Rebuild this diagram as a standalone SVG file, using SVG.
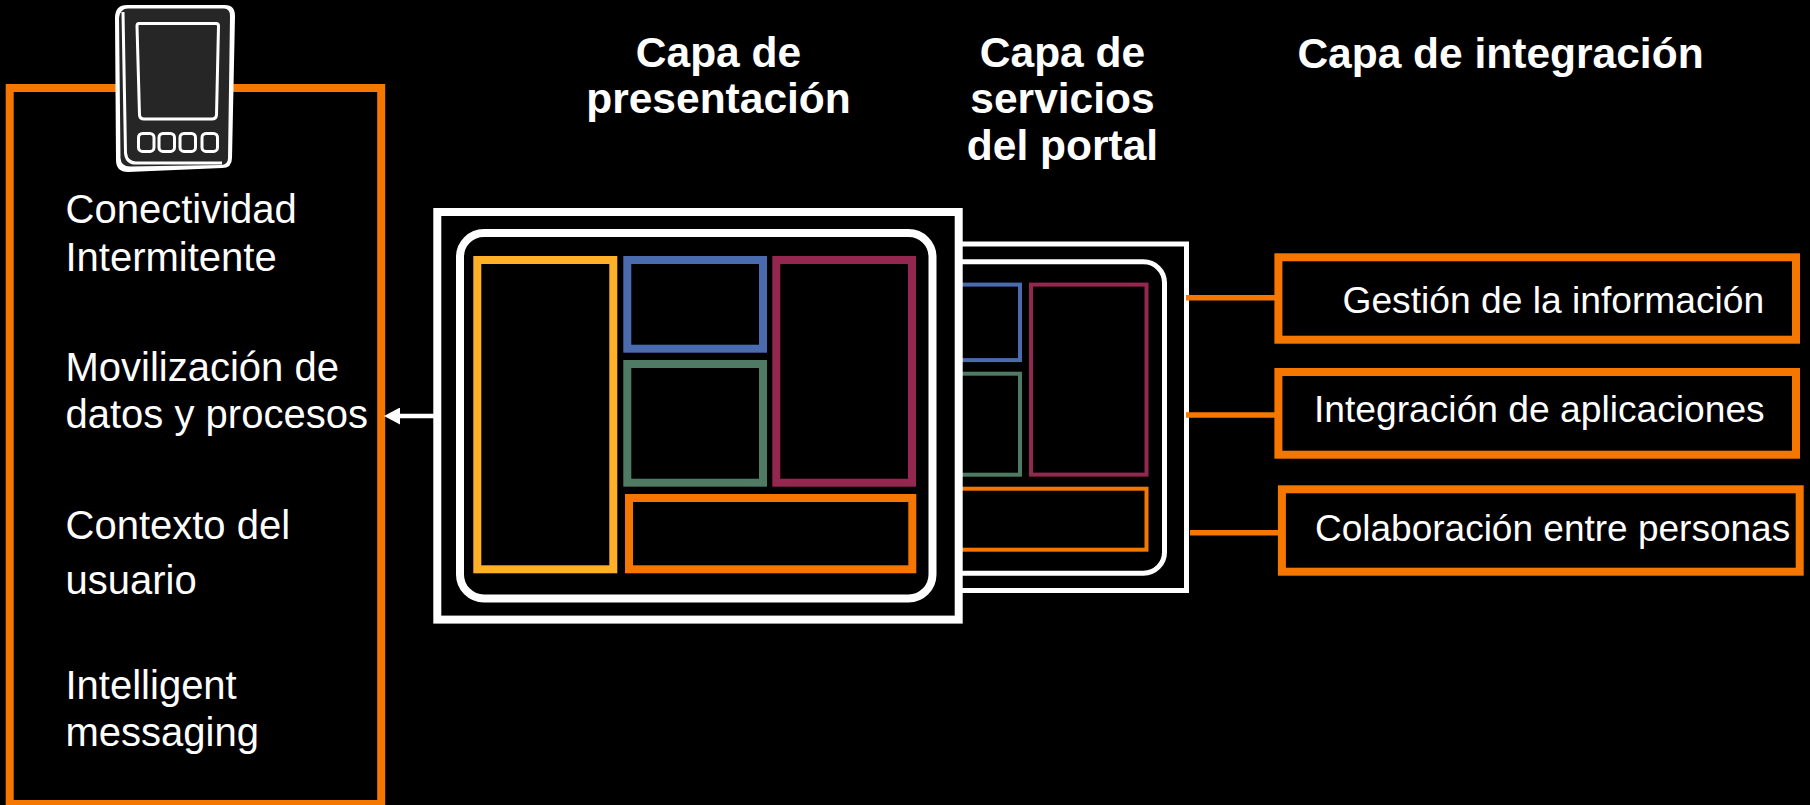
<svg xmlns="http://www.w3.org/2000/svg" width="1810" height="805" viewBox="0 0 1810 805">
<style>
text{font-family:"Liberation Sans",Arial,sans-serif;fill:#fff}
.body{font-size:40px}
.side{font-size:37.2px}
.head{font-size:42.5px;font-weight:700;text-anchor:middle}
.box{fill:#000;stroke-linejoin:miter}
.o{stroke:#f57700}
.w{stroke:#fff}
.y{stroke:#ffb027}
.b{stroke:#4a6bae}
.g{stroke:#4f7a63}
.m{stroke:#94274f}
.ph{fill:none;stroke:#fff;stroke-width:3}
</style>
<defs>
<marker id="arrow" viewBox="0 0 16 17" refX="0" refY="8.500" markerWidth="16" markerHeight="17" markerUnits="userSpaceOnUse" orient="auto"><path d="M16 8.500L0 0V17Z" fill="#fff"/></marker>
</defs>
<rect width="1810" height="805" fill="#000"/>
<g id="mobile-panel">
<rect class="box o" x="9.7" y="88" width="371.5" height="716" stroke-width="8"/>
<text class="body" x="65.500" y="222.7">Conectividad</text>
<text class="body" x="65.500" y="270.7">Intermitente</text>
<text class="body" x="65.500" y="380.7">Movilización de</text>
<text class="body" x="65.500" y="428.3">datos y procesos</text>
<text class="body" x="65.500" y="539.3">Contexto del</text>
<text class="body" x="65.500" y="594.3">usuario</text>
<text class="body" x="65.500" y="699">Intelligent</text>
<text class="body" x="65.500" y="746">messaging</text>
</g>
<g id="device">
<path d="M127 5H225Q235 5 235 16L232 158Q232 168 222 168L128 172Q116 172 116 160L115 18Q115 5 127 5Z" fill="#fff"/>
<path d="M128 8.500H224Q230 8.500 230 16L228 158Q228 165 221 165L130 166.500Q121 166.500 120.500 158L119 18Q120 8.500 128 8.500Z" fill="#262626"/>
<path class="ph" d="M123 12L125.500 153Q126.500 163 136 163H222"/>
<path class="ph" d="M139 23.500H216Q218.500 23.500 218.500 26L216.500 115Q216 119 212 119H144Q140 119 139.500 115L137 26Q137 23.500 139 23.500Z"/>
<rect class="ph" x="138.500" y="133.400" width="15.500" height="18" rx="4"/>
<rect class="ph" x="159" y="133.400" width="15.500" height="18" rx="4"/>
<rect class="ph" x="180" y="133.400" width="15.500" height="18" rx="4"/>
<rect class="ph" x="202" y="133.400" width="15.500" height="18" rx="4"/>
</g>
<g id="services-layer">
<rect class="box w" x="900" y="244" width="286.500" height="346.500" stroke-width="5"/>
<rect class="box w" x="880" y="261.800" width="284.500" height="311.400" rx="21" stroke-width="5"/>
<rect class="box b" x="900" y="284.600" width="120" height="75.500" stroke-width="4"/>
<rect class="box g" x="900" y="373.700" width="120" height="101" stroke-width="4"/>
<rect class="box m" x="1031" y="284.600" width="115.500" height="190" stroke-width="4"/>
<rect class="box o" x="900" y="488.700" width="246.500" height="61" stroke-width="4"/>
</g>
<g id="presentation-layer">
<rect class="box w" x="437.300" y="212" width="521.400" height="407.600" stroke-width="8"/>
<rect class="box w" x="460" y="233" width="472.500" height="365.400" rx="24" stroke-width="8"/>
<rect class="box y" x="477.300" y="260" width="136" height="309.300" stroke-width="8"/>
<rect class="box b" x="627.300" y="260" width="135.700" height="88.700" stroke-width="8"/>
<rect class="box g" x="627.300" y="364" width="135.700" height="118.700" stroke-width="8"/>
<rect class="box m" x="776.300" y="260" width="135.700" height="222.700" stroke-width="8"/>
<rect class="box o" x="629" y="498" width="283.300" height="71.300" stroke-width="8"/>
</g>
<g id="connectors">
<line x1="1186" y1="297.700" x2="1276" y2="297.700" stroke="#f57700" stroke-width="5.500"/>
<line x1="1186" y1="415" x2="1276" y2="415" stroke="#f57700" stroke-width="5.500"/>
<line x1="1190" y1="532.700" x2="1279" y2="532.700" stroke="#f57700" stroke-width="5.500"/>
<line x1="434" y1="416" x2="400" y2="416" stroke="#fff" stroke-width="4.500" marker-end="url(#arrow)"/>
</g>
<g id="info-management">
<rect class="box o" x="1278.400" y="257.300" width="517.600" height="82.400" stroke-width="8"/>
<text class="side" x="1342.500" y="312.700">Gestión de la información</text>
</g>
<g id="app-integration">
<rect class="box o" x="1278.400" y="372" width="517.600" height="82.700" stroke-width="8"/>
<text class="side" x="1314" y="422.300">Integración de aplicaciones</text>
</g>
<g id="people-collaboration">
<rect class="box o" x="1281.900" y="489.300" width="517.800" height="82.400" stroke-width="8"/>
<text class="side" x="1315" y="541" style="font-size:37px">Colaboración entre personas</text>
</g>
<g id="headers">
<text class="head" x="718.500" y="67.300">Capa de</text>
<text class="head" x="718.500" y="112.700">presentación</text>
<text class="head" x="1062.500" y="67.300">Capa de</text>
<text class="head" x="1062.500" y="112.700">servicios</text>
<text class="head" x="1062.500" y="159.700">del portal</text>
<text class="head" x="1500.500" y="67.700">Capa de integración</text>
</g>
</svg>
